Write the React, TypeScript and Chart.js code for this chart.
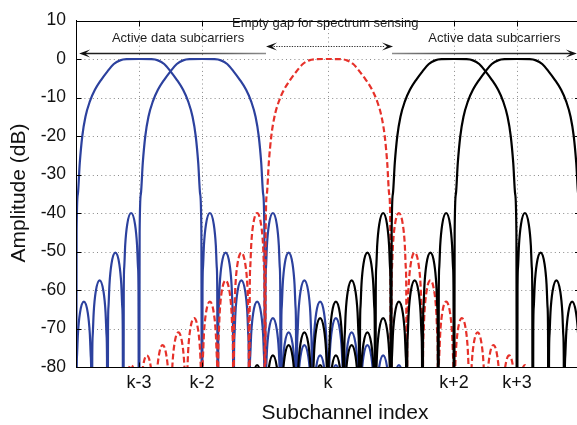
import React, { useEffect, useRef } from "react";
import { Chart, registerables } from "chart.js";

Chart.register(...registerables);

// Axis ticks
const xTickValues = [-3, -2, 0, 2, 3];
const xTickLabels = ["k-3", "k-2", "k", "k+2", "k+3"];
const yMin = -80;
const yMax = 10;
const yStep = 10;
const xMin = -4;
const xMax = 3.952;

// Subchannels shown (offset from k) and the group each belongs to
const subchannelOffsets = [-3, -2, 0, 2, 3];
const subchannelGroup = ["active", "active", "gap", "active2", "active2"];

// Main lobe of one subchannel: offset from its centre (in subchannels) vs amplitude (dB)
const mainLobeOffsets = [0, 0.2, 0.3, 0.4, 0.5, 0.6, 0.7, 0.78, 0.85, 0.9, 0.94, 0.97, 0.99];
const mainLobeDb = [0, -0.05, -0.35, -1.3, -3.2, -5.4, -8, -11, -15, -20, -27, -35, -45];
const mainLobeNull = 1;

// Side lobes: peak level of each lobe, counted outward from the main lobe
const sidelobePeakDb = [-40, -50.3, -57.5, -63, -67.3, -71, -74.3, -77, -79.5, -82];
const sidelobeWidth = 0.25;
// Shape of one side lobe: offset from lobe centre vs level below its peak (dB)
const lobeShapeOffsets = [-0.117, -0.109, -0.094, -0.0625, 0, 0.0625, 0.094, 0.109, 0.117];
const lobeShapeDb = [-20, -14, -8.3, -3, 0, -3, -8.3, -14, -20];
const nullDb = -140;

const FONT = "'Liberation Sans', Arial, Helvetica, sans-serif";

const groupStyle: Record<string, { color: string; dash: number[] }> = {
  active: { color: "#2c419e", dash: [] },
  gap: { color: "#e6312a", dash: [6, 3] },
  active2: { color: "#000000", dash: [] },
};

type Pt = { x: number; y: number };

function subchannelSpectrum(c: number): Pt[] {
  const pts: Pt[] = [];
  const n = sidelobePeakDb.length;
  // left side lobes, outermost first
  pts.push({ x: c - (mainLobeNull + sidelobeWidth * n), y: nullDb });
  for (let j = n - 1; j >= 0; j--) {
    const lc = c - (mainLobeNull + sidelobeWidth * (j + 0.5));
    for (let k = 0; k < lobeShapeOffsets.length; k++) {
      pts.push({ x: lc + lobeShapeOffsets[k], y: sidelobePeakDb[j] + lobeShapeDb[k] });
    }
    pts.push({ x: lc + sidelobeWidth / 2, y: nullDb });
  }
  // main lobe
  for (let i = mainLobeOffsets.length - 1; i > 0; i--) {
    pts.push({ x: c - mainLobeOffsets[i], y: mainLobeDb[i] });
  }
  for (let i = 0; i < mainLobeOffsets.length; i++) {
    pts.push({ x: c + mainLobeOffsets[i], y: mainLobeDb[i] });
  }
  pts.push({ x: c + mainLobeNull, y: nullDb });
  // right side lobes
  for (let j = 0; j < n; j++) {
    const lc = c + mainLobeNull + sidelobeWidth * (j + 0.5);
    for (let k = 0; k < lobeShapeOffsets.length; k++) {
      pts.push({ x: lc + lobeShapeOffsets[k], y: sidelobePeakDb[j] + lobeShapeDb[k] });
    }
    pts.push({ x: lc + sidelobeWidth / 2, y: nullDb });
  }
  return pts;
}

function arrowHead(ctx: CanvasRenderingContext2D, tipX: number, tipY: number, dir: number, len: number, halfW: number) {
  ctx.beginPath();
  ctx.moveTo(tipX, tipY);
  ctx.lineTo(tipX - dir * len, tipY - halfW);
  ctx.lineTo(tipX - dir * len * 0.55, tipY);
  ctx.lineTo(tipX - dir * len, tipY + halfW);
  ctx.closePath();
  ctx.fill();
}

const framePlugin = {
  id: "frame",
  beforeDatasetsDraw(chart: any) {
    const { ctx, chartArea: a, scales } = chart;
    const x = scales.x;
    const y = scales.y;
    ctx.save();
    ctx.strokeStyle = "#8a8a8a";
    ctx.lineWidth = 1;
    ctx.setLineDash([1, 3.2]);
    for (const v of xTickValues) {
      const px = Math.round(x.getPixelForValue(v)) + 0.5;
      ctx.beginPath();
      ctx.moveTo(px, a.top);
      ctx.lineTo(px, a.bottom);
      ctx.stroke();
    }
    for (let v = yMin + yStep; v < yMax; v += yStep) {
      const py = Math.round(y.getPixelForValue(v)) + 0.5;
      ctx.beginPath();
      ctx.moveTo(a.left, py);
      ctx.lineTo(a.right, py);
      ctx.stroke();
    }
    ctx.restore();
  },
  afterDraw(chart: any) {
    const { ctx, chartArea: a, scales } = chart;
    const x = scales.x;
    const y = scales.y;
    ctx.save();
    ctx.setLineDash([]);
    ctx.strokeStyle = "#000";
    ctx.lineWidth = 1;
    const top = Math.round(a.top) + 0.5;
    const bottom = Math.round(a.bottom) + 0.5;
    const left = Math.round(a.left) + 0.5;
    // frame
    ctx.beginPath();
    ctx.moveTo(left, top);
    ctx.lineTo(a.right, top);
    ctx.moveTo(left, top);
    ctx.lineTo(left, bottom);
    ctx.lineTo(a.right, bottom);
    ctx.stroke();
    // inward tick marks
    const tl = 5;
    const rightAxis = x.getPixelForValue(4);
    ctx.beginPath();
    for (const v of xTickValues) {
      const px = Math.round(x.getPixelForValue(v)) + 0.5;
      ctx.moveTo(px, bottom);
      ctx.lineTo(px, bottom - tl);
      ctx.moveTo(px, top);
      ctx.lineTo(px, top + tl);
    }
    for (let v = yMin; v <= yMax; v += yStep) {
      const py = Math.round(y.getPixelForValue(v)) + 0.5;
      ctx.moveTo(left, py);
      ctx.lineTo(left + tl, py);
      ctx.moveTo(rightAxis, py);
      ctx.lineTo(rightAxis - tl, py);
    }
    ctx.stroke();

    // annotations
    const yArrow = Math.round(y.getPixelForValue(1.68)) + 0.5;
    const yGap = y.getPixelForValue(3.3);
    const gapL = x.getPixelForValue(-1);
    const gapR = x.getPixelForValue(1);
    const leftTip = x.getPixelForValue(-3.95);
    const rightTip = x.getPixelForValue(3.95);

    // left arrow
    let g = ctx.createLinearGradient(leftTip, 0, gapL, 0);
    g.addColorStop(0, "#1a1a1a");
    g.addColorStop(0.55, "#333");
    g.addColorStop(1, "#8c8c8c");
    ctx.strokeStyle = g;
    ctx.lineWidth = 1.6;
    ctx.beginPath();
    ctx.moveTo(gapL + 1, yArrow);
    ctx.lineTo(leftTip + 5, yArrow);
    ctx.stroke();
    ctx.fillStyle = "#111";
    arrowHead(ctx, leftTip, yArrow, -1, 11, 4);

    // right arrow
    g = ctx.createLinearGradient(gapR, 0, rightTip, 0);
    g.addColorStop(0, "#8c8c8c");
    g.addColorStop(0.45, "#333");
    g.addColorStop(1, "#1a1a1a");
    ctx.strokeStyle = g;
    ctx.beginPath();
    ctx.moveTo(gapR + 1, yArrow);
    ctx.lineTo(rightTip - 5, yArrow);
    ctx.stroke();
    arrowHead(ctx, rightTip, yArrow, 1, 11, 4);

    // dotted double arrow over the gap
    ctx.strokeStyle = "#333";
    ctx.lineWidth = 1;
    ctx.setLineDash([1.3, 1.3]);
    ctx.beginPath();
    ctx.moveTo(gapL + 6, Math.round(yGap) + 0.5);
    ctx.lineTo(gapR - 6, Math.round(yGap) + 0.5);
    ctx.stroke();
    ctx.setLineDash([]);
    arrowHead(ctx, gapL + 1, Math.round(yGap) + 0.5, -1, 11, 4);
    arrowHead(ctx, gapR + 2, Math.round(yGap) + 0.5, 1, 11, 4);

    // annotation labels
    ctx.fillStyle = "#1e1e1e";
    ctx.font = `13px ${FONT}`;
    ctx.textAlign = "center";
    ctx.textBaseline = "alphabetic";
    ctx.fillText("Active data subcarriers", x.getPixelForValue(-2.38), 42);
    ctx.fillText("Active data subcarriers", x.getPixelForValue(2.64), 42);
    ctx.fillText("Empty gap for spectrum sensing", x.getPixelForValue(-0.045), 27);

    // axis titles
    ctx.fillStyle = "#111";
    ctx.font = `21px ${FONT}`;
    ctx.fillText("Subchannel index", 345, 419);
    ctx.translate(25, 193);
    ctx.rotate(-Math.PI / 2);
    ctx.fillText("Amplitude (dB)", 0, 0);
    ctx.restore();
  },
};

export default function App() {
  const canvasRef = useRef<HTMLCanvasElement | null>(null);

  useEffect(() => {
    const canvas = canvasRef.current;
    if (!canvas) return;
    const n = subchannelOffsets.length;
    const datasets = subchannelOffsets.map((c, i) => {
      const st = groupStyle[subchannelGroup[i]];
      return {
        data: subchannelSpectrum(c),
        borderColor: st.color,
        borderDash: st.dash,
        borderWidth: 2.2,
        pointRadius: 0,
        fill: false,
        cubicInterpolationMode: "monotone" as const,
        clip: 0,
        order: n - i,
      };
    });

    const chart = new Chart(canvas, {
      type: "line",
      data: { datasets },
      options: {
        animation: false,
        responsive: false,
        devicePixelRatio: 1,
        events: [],
        layout: { padding: { top: 13, left: 0, right: 0, bottom: 0 } },
        plugins: {
          legend: { display: false },
          tooltip: { enabled: false },
          title: { display: false },
        },
        scales: {
          x: {
            type: "linear",
            min: xMin,
            max: xMax,
            grid: { display: false, drawTicks: false },
            border: { display: true, color: "#000", width: 1 },
            afterBuildTicks: (s: any) => {
              s.ticks = xTickValues.map((v) => ({ value: v }));
            },
            afterFit: (s: any) => {
              s.height = 58;
            },
            ticks: {
              autoSkip: false,
              maxRotation: 0,
              minRotation: 0,
              padding: 5,
              color: "#111",
              font: { family: FONT, size: 18 },
              callback: (v: any) => {
                const i = xTickValues.indexOf(Number(v));
                return i >= 0 ? xTickLabels[i] : "";
              },
            },
          },
          y: {
            type: "linear",
            min: yMin,
            max: yMax,
            grid: { display: false, drawTicks: false },
            border: { display: true, color: "#000", width: 1 },
            afterFit: (s: any) => {
              s.width = 76;
            },
            ticks: {
              stepSize: yStep,
              padding: 10,
              color: "#111",
              font: { family: FONT, size: 17.5 },
            },
          },
        },
      },
      plugins: [framePlugin],
    });
    return () => chart.destroy();
  }, []);

  return (
    <div style={{ position: "fixed", left: 0, top: 0, width: 577, height: 425, background: "#fff" }}>
      <canvas ref={canvasRef} width={577} height={425} style={{ display: "block", width: 577, height: 425 }} />
    </div>
  );
}
